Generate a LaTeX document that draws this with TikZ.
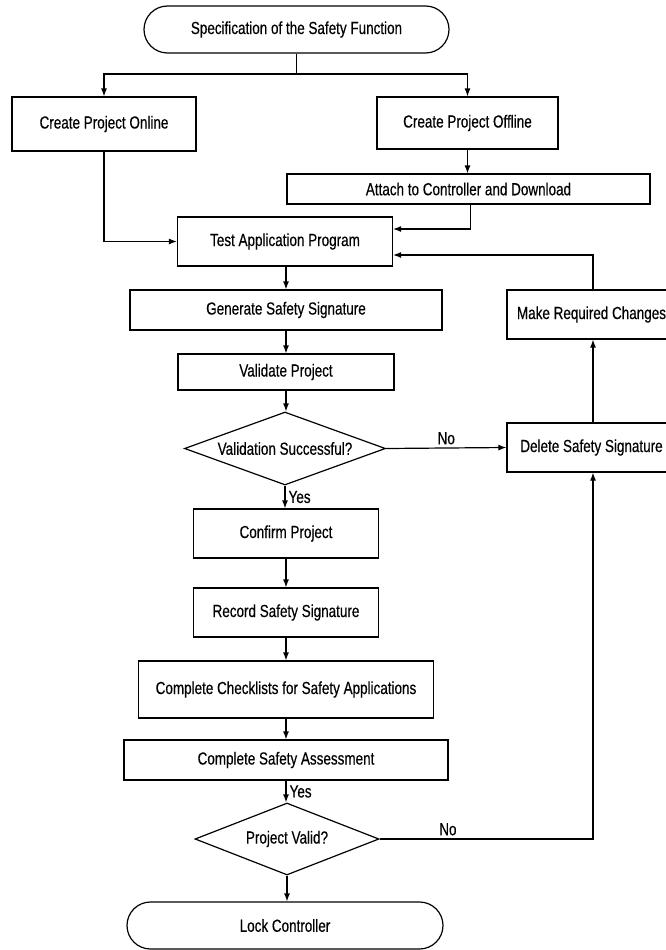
\documentclass[tikz,border=0pt]{standalone}
\usepackage{fontspec}
\setmainfont{Liberation Sans}[FakeStretch=0.77,FakeBold=0.4]
\usetikzlibrary{shapes.geometric,shapes.misc,arrows.meta}
\newcommand{\fsz}{\fontsize{17.5}{20}\selectfont}
\tikzset{
  base/.style={draw=black, line width=1.2pt, font=\fsz, inner sep=2pt, anchor=center, align=center},
  procbox/.style={base, rectangle},
  termbox/.style={base, rounded rectangle},
  decbox/.style={base, diamond, inner sep=0pt},
  arr/.style={line width=1.2pt, -{Latex[length=8pt,width=6pt]}},
  ln/.style={line width=1.2pt},
  lbl/.style={font=\fsz, inner sep=3pt},
}
\begin{document}
\begin{tikzpicture}[x=1pt,y=-1pt]
\useasboundingbox (0,0) rectangle (666,950);
\clip (0,0) rectangle (666,950);
% nodes
\node[termbox, minimum width=309pt, minimum height=47pt] (start) at (296.5,29.5) {Specification of the Safety Function};
\node[procbox, minimum width=184pt, minimum height=54pt] (online) at (104,124) {Create Project Online};
\node[procbox, minimum width=181pt, minimum height=52pt] (offline) at (467.5,123) {Create Project Offline};
\node[procbox, minimum width=363pt, minimum height=30pt] (attach) at (468.5,189) {Attach to Controller and Download};
\node[procbox, minimum width=215pt, minimum height=49pt] (test) at (285,241.5) {Test Application Program};
\node[procbox, minimum width=169pt, minimum height=49pt] (make) at (591.5,314.5) {Make Required Changes};
\node[procbox, minimum width=312pt, minimum height=40pt] (gen) at (286,310) {Generate Safety Signature};
\node[procbox, minimum width=216pt, minimum height=36pt] (valid) at (286,372) {Validate Project};
\node[decbox, aspect=2.75, minimum width=201pt, minimum height=73pt] (dec1) at (285,448.5) {Validation Successful?};
\node[procbox, minimum width=169pt, minimum height=49pt] (delete) at (591.5,447.5) {Delete Safety Signature};
\node[procbox, minimum width=185pt, minimum height=49pt] (confirm) at (286,533.5) {Confirm Project};
\node[procbox, minimum width=185pt, minimum height=49pt] (record) at (286,612.5) {Record Safety Signature};
\node[procbox, minimum width=295pt, minimum height=57pt] (check) at (286,689.5) {Complete Checklists for Safety Applications};
\node[procbox, minimum width=324pt, minimum height=40pt] (assess) at (286,760) {Complete Safety Assessment};
\node[decbox, aspect=2.55, minimum width=184pt, minimum height=72pt] (dec2) at (287,839) {Project Valid?};
\node[termbox, minimum width=320pt, minimum height=47pt] (lock) at (285,925.5) {Lock Controller};
% helper coordinates
\coordinate (split) at (296.5,74);
% connectors
\draw[ln] (start.south) -- (split);
\draw[arr] (split) -| (online.north);
\draw[arr] (split) -| (offline.north);
\draw[arr] (offline.south) -- (offline.south |- attach.north);
\draw[arr] (online.south) |- (test.west);
\draw[arr] ([xshift=2pt]attach.south) |- ([yshift=12.5pt]test.east);
\draw[arr] ([xshift=1.5pt]make.north) |- ([yshift=-13.5pt]test.east);
\draw[arr] (test.south -| gen.north) -- (gen.north);
\draw[arr] (gen.south) -- (valid.north);
\draw[arr] (valid.south) -- (valid.south |- dec1.north);
\draw[arr] (dec1.east) -- node[lbl, above]{No} (delete.west);
\draw[arr] (dec1.south) -- node[lbl, right]{Yes} (dec1.south |- confirm.north);
\draw[arr] (confirm.south) -- (record.north);
\draw[arr] (record.south) -- (check.north);
\draw[arr] (check.south) -- (assess.north);
\draw[arr] (assess.south) -- node[lbl, right]{Yes} (assess.south |- dec2.north);
\draw[arr] (dec2.south) -- (dec2.south |- lock.north);
\draw[arr] (dec2.east) -| node[lbl, above, pos=0.16]{No} ([xshift=1.5pt]delete.south);
\draw[arr] ([xshift=1.5pt]delete.north) -- ([xshift=1.5pt]make.south);
\end{tikzpicture}
\end{document}
